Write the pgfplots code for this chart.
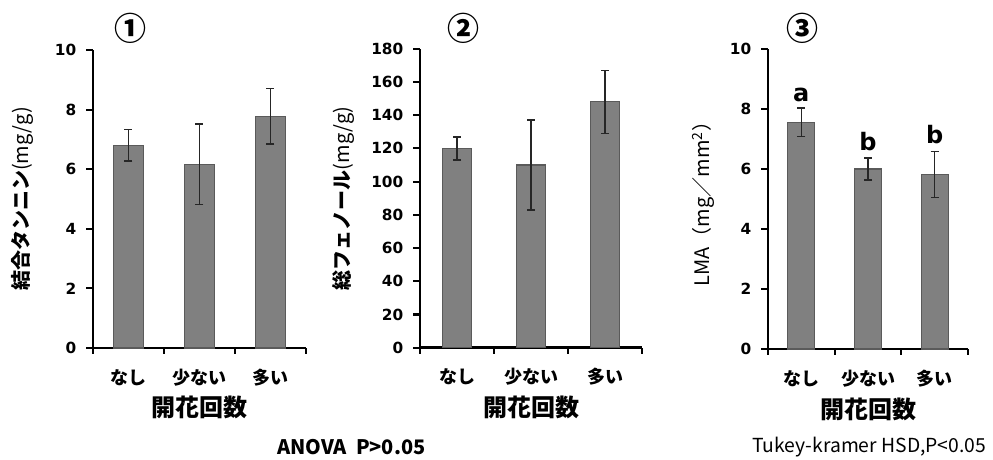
\documentclass[border=0pt]{standalone}
\usepackage{fontspec}
\setmainfont{DejaVu Sans}
\newfontfamily\jp{Noto Sans CJK JP}
\usepackage{pgfplots}
\pgfplotsset{compat=1.18}
\definecolor{barfill}{HTML}{808080}
\definecolor{bardraw}{HTML}{5A5A5A}
\pgfplotsset{
 panel/.style={
  scale only axis,
  axis x line=bottom, axis y line=left,
  axis line style={-, line width=2.2pt, black},
  xmin=-0.5, xmax=2.5, ymin=0,
  xtick={0,1,2},
  xticklabels={なし,少ない,多い},
  major x tick style={draw=none},
  minor xtick={-0.5,0.5,1.5,2.5},
  minor x tick style={draw=black, line width=1.6pt},
  minor tick length=4.5pt,
  major tick length=5pt,
  tick align=outside,
  ytick style={draw=black, line width=1.6pt},
  /pgf/number format/assume math mode=true,
  yticklabel style={font=\bfseries\fontsize{11.5}{13}\selectfont, xshift=-4pt},
  xticklabel style={font=\jp\bfseries\fontsize{13.5}{15}\selectfont, anchor=center, yshift=-17pt},
  xlabel={\jp\bfseries 開花回数},
  xlabel style={font=\fontsize{18}{20}\selectfont, at={(axis description cs:0.5,-0.2)}, anchor=center},
  ylabel style={font=\fontsize{15}{17}\selectfont, anchor=center},
  clip=false,
  ybar,
 },
 eb/.style={fill=barfill, draw=bardraw, line width=0.8pt,
  error bars/.cd, y dir=both, y explicit,
  error bar style={line width=1.1pt, black!85},
  error mark options={rotate=90, mark size=3pt, line width=1.1pt, black!85}},
}
\begin{document}
\begin{tikzpicture}[x=1pt,y=1pt]
\useasboundingbox (0,0) rectangle (744.75,345);
% Panel 1
\begin{axis}[panel, at={(69.75pt,84pt)}, anchor=south west,
  width=159.75pt, height=223.5pt, ymax=10, ytick={0,2,...,10}, bar width=22.5pt,
  ylabel={\jp\bfseries 結合タンニン\mdseries(mg/g)},
  ylabel style={at={(axis description cs:-0.333,0.5)}}]
\addplot[eb] coordinates {(0,6.8) +- (0,0.53) (1,6.17) +- (0,1.35) (2,7.78) +- (0,0.93)};
\end{axis}
% Panel 2
\begin{axis}[panel, at={(315pt,84.2pt)}, anchor=south west,
  width=166.5pt, height=224.25pt, ymax=180, ytick={0,20,...,180}, bar width=22.3pt,
  ylabel={\jp\bfseries 総フェノール\mdseries(mg/g)},
  ylabel style={at={(axis description cs:-0.347,0.5)}}]
\addplot[eb] coordinates {(0,120) +- (0,7) (1,110) +- (0,27) (2,148) +- (0,19)};
\end{axis}
% Panel 3
\begin{axis}[panel, at={(576pt,83.25pt)}, anchor=south west,
  width=150pt, height=225pt, ymax=10, ytick={0,2,...,10}, bar width=20.25pt,
  ylabel={\jp LMA（mg／mm\textsuperscript{2}）},
  ylabel style={at={(axis description cs:-0.325,0.5)}}]
\addplot[eb] coordinates {(0,7.56) +- (0,0.47) (1,6.0) +- (0,0.36) (2,5.82) +- (0,0.77)};
\node[font=\bfseries\fontsize{18}{20}\selectfont, anchor=south] at (axis cs:0,8.03) [yshift=1pt] {a};
\node[font=\bfseries\fontsize{18}{20}\selectfont, anchor=south] at (axis cs:1,6.36) [yshift=2pt] {b};
\node[font=\bfseries\fontsize{18}{20}\selectfont, anchor=south] at (axis cs:2,6.59) [yshift=2pt] {b};
\end{axis}
\node[font=\jp\bfseries\fontsize{24}{26}\selectfont] at (97.5,324) {①};
\node[font=\jp\bfseries\fontsize{24}{26}\selectfont] at (347.25,324) {②};
\node[font=\jp\bfseries\fontsize{24}{26}\selectfont] at (601.5,324) {③};
\node[font=\jp\bfseries\fontsize{15}{17}\selectfont, anchor=west, inner sep=0pt] at (207.75,9.75) {ANOVA\ \ P>0.05};
\node[font=\jp\fontsize{14.5}{17}\selectfont, anchor=west, inner sep=0pt] at (564,9.75) {Tukey-kramer HSD,P<0.05};
\end{tikzpicture}
\end{document}
